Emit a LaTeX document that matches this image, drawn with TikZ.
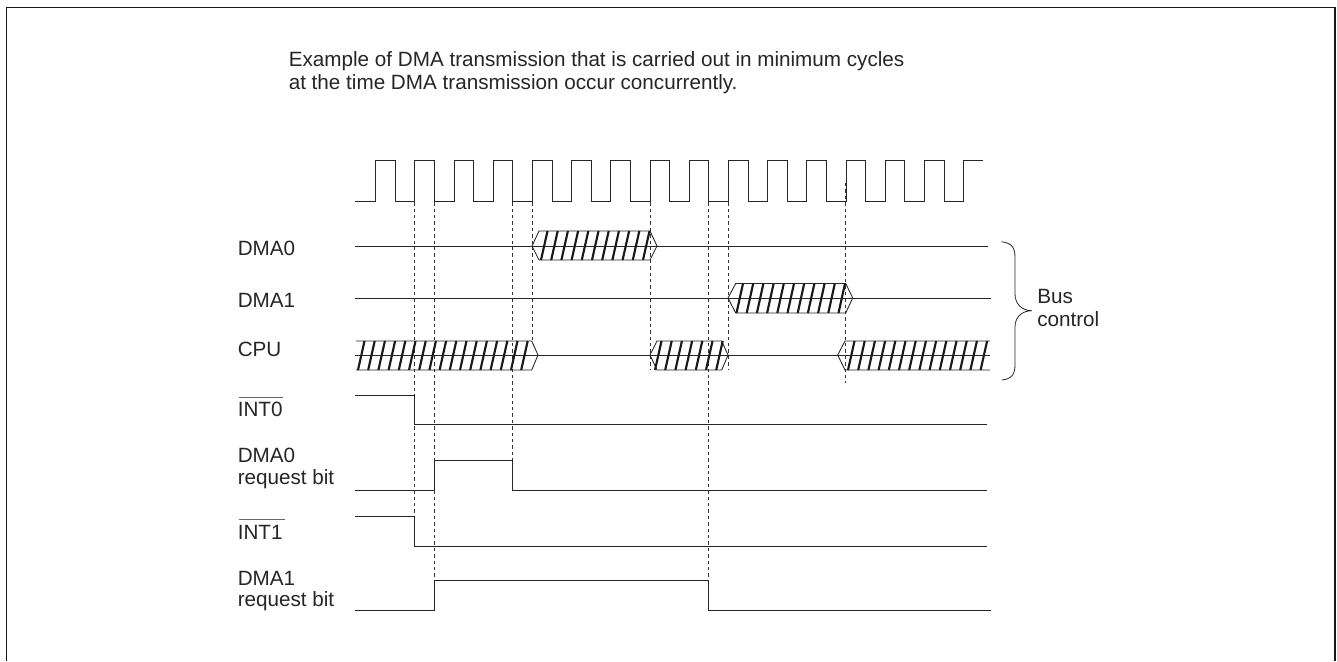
\documentclass[tikz,border=0pt]{standalone}
\usepackage{fontspec}
\setmainfont{Liberation Sans}
\newcommand{\hatchrow}[4]{% first x, count-1, top y, bottom y
  \foreach \k in {0,...,#2}{
    \draw[hatchline] ({#1+10.2*\k},#4) -- ({#1+10.2*\k+6.5},#3);
  }}
\tikzset{
  wave/.style={line width=0.65pt,draw=black!85,line join=miter},
  frameline/.style={line width=1pt,draw=black!90},
  guide/.style={line width=0.55pt,draw=black!80,dash pattern=on 2.6pt off 2.2pt},
  hatchline/.style={line width=1.6pt,draw=black!90},
  label/.style={inner sep=0pt,anchor=base west,text=black!85,font=\fontsize{15.5pt}{18pt}\selectfont},
  barline/.style={line width=0.8pt,draw=black!60},
}
\begin{document}
\begin{tikzpicture}[x=0.75pt,y=-0.75pt]
\useasboundingbox (0,0) rectangle (1337,661);
\fill[white] (0,0) rectangle (1337,661);
\draw[frameline] (6.5,661) -- (6.5,7.5) -- (1335,7.5) -- (1335,661);
% text
\node[label] (t1) at (288.5,66.7) {Example of DMA transmission that is carried out in minimum cycles};
\node[label] (t2) at (288.5,89.3) {at the time DMA transmission occur concurrently.};
\node[label] (l1) at (237.5,255) {DMA0};
\node[label] (l2) at (237.5,307.3) {DMA1};
\node[label] (l3) at (237.5,356.5) {CPU};
\node[label] (l4) at (237.5,416.7) {INT0};
\draw[barline] ([xshift=1pt,yshift=3.6pt]l4.north west) -- ([yshift=3.6pt]l4.north east);
\node[label] (l5) at (237.5,462.3) {DMA0};
\node[label] (l6) at (237.5,484.3) {request bit};
\node[label] (l7) at (237.5,539) {INT1};
\draw[barline] ([xshift=1pt,yshift=3.6pt]l7.north west) -- ([xshift=2pt,yshift=3.6pt]l7.north east);
\node[label] (l8) at (237.5,585) {DMA1};
\node[label] (l9) at (237.5,606.7) {request bit};
\node[label] (b1) at (1037,303.3) {Bus};
\node[label] (b2) at (1037,326.7) {control};
% guides
\draw[guide] (414.3,183) -- (414.3,546.7);
\draw[guide] (434,183) -- (434,610);
\draw[guide] (512.3,183) -- (512.3,460.7);
\draw[guide] (532,183) -- (532,341);
\draw[guide] (650,183) -- (650,370);
\draw[guide] (708.7,183) -- (708.7,610);
\draw[guide] (728,183) -- (728,370);
\draw[guide] (845.7,183) -- (845.7,383);
% clock
\draw[wave] (355,201.5)
  \foreach \n in {0,...,14}{ -- ({375.7+39.2*\n},201.5) -- ({375.7+39.2*\n},160) -- ({395.3+39.2*\n},160) -- ({395.3+39.2*\n},201.5) }
  -- (963.7,201.5) -- (963.7,160) -- (983,160);
% DMA0
\draw[wave] (355,246) -- (988,246);
\draw[wave] (532,246) -- (539,231) -- (650,231) -- (657,246) -- (650,260) -- (539,260) -- cycle;
\hatchrow{541}{10}{231}{260}
% DMA1
\draw[wave] (355,298) -- (991,298);
\draw[wave] (728,298) -- (735.7,283.5) -- (845.7,283.5) -- (852.7,298) -- (845.7,313) -- (735.7,313) -- cycle;
\hatchrow{736.5}{10}{283.5}{313}
% CPU
\draw[wave] (355,355) -- (990,355);
\draw[wave] (356,341) -- (531.7,341) -- (538,355) -- (531.7,370) -- (356,370);
\hatchrow{358}{16}{341}{370}
\draw[wave] (650,355) -- (657,341) -- (721.7,341) -- (728,355) -- (721.7,370) -- (657,370) -- cycle;
\hatchrow{655}{6}{341}{370}
\draw[wave] (990,341) -- (845,341) -- (837.7,355) -- (845,370) -- (990,370);
\hatchrow{848}{13}{341}{370}
% signals
\draw[wave] (355,395) -- (414.3,395) -- (414.3,424.3) -- (987,424.3);
\draw[wave] (355,490.5) -- (434,490.5) -- (434,460.7) -- (512.3,460.7) -- (512.3,490.5) -- (987,490.5);
\draw[wave] (355,516.7) -- (414.3,516.7) -- (414.3,546.7) -- (987,546.7);
\draw[wave] (355,610) -- (434,610) -- (434,580.7) -- (708.7,580.7) -- (708.7,610) -- (991,610);
% brace
\draw[line width=0.6pt,draw=black!85] (1001.7,241.7) .. controls (1011,243) and (1015,247) .. (1015,257)
  -- (1015,294) .. controls (1015,304) and (1022,310.7) .. (1031.7,310.7)
  .. controls (1022,310.7) and (1015,317) .. (1015,327)
  -- (1015,365) .. controls (1015,375) and (1011,379) .. (1001.7,380);
\end{tikzpicture}
\end{document}
